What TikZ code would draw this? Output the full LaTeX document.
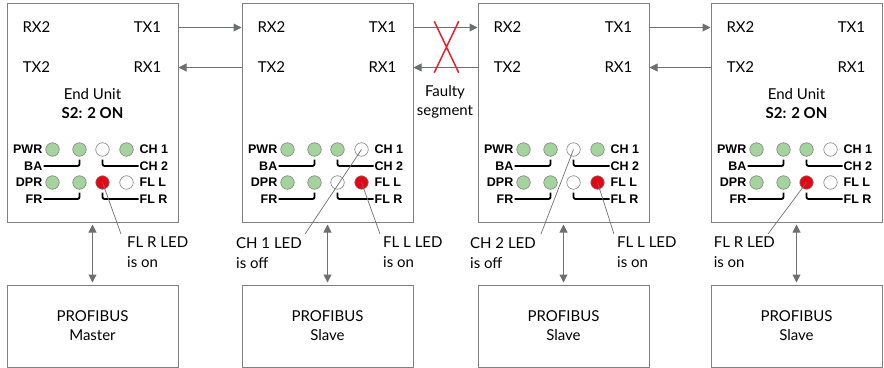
\documentclass[tikz,border=0pt]{standalone}
\usepackage{fontspec}
\setmainfont{Lato}
\newfontfamily\ledfont{Liberation Sans}
\usetikzlibrary{arrows.meta,positioning,shapes.misc}

\definecolor{linegrey}{RGB}{110,111,114}
\definecolor{boxgrey}{RGB}{128,128,128}
\definecolor{ledgreen}{RGB}{164,211,157}
\definecolor{ledred}{RGB}{227,6,19}
\definecolor{crossred}{RGB}{232,32,42}

\begin{document}
\begin{tikzpicture}[
    x=1pt, y=-1pt,
    font=\fontsize{15}{19}\selectfont,
    unitbox/.style={draw=boxgrey, line width=1pt, minimum width=171pt, minimum height=219pt, inner sep=0pt},
    busbox/.style={draw=boxgrey, line width=1pt, minimum width=171pt, minimum height=82pt, align=center},
    port/.style={inner sep=0pt},
    led/.style={circle, draw=boxgrey, line width=0.6pt, fill=#1, minimum size=13.5pt, inner sep=0pt},
    ledlbl/.style={font=\ledfont\bfseries\fontsize{12.5}{12.5}\selectfont, inner sep=1pt},
    bracket/.style={line width=1.8pt, rounded corners=2pt},
    link/.style={-{Triangle[length=8pt,width=8pt]}, draw=linegrey, line width=1pt},
    dlink/.style={{Triangle[length=8pt,width=8pt]}-{Triangle[length=8pt,width=8pt]}, draw=linegrey, line width=1pt},
    ledtext/.style={align=left, inner sep=3pt, font=\fontsize{15}{20}\selectfont},
    leader/.style={draw=linegrey, line width=0.7pt}
]
\useasboundingbox (0,0) rectangle (884,367);

% units and PROFIBUS stations
\node[unitbox] (u1) at (92.5,112.5) {};
\node[unitbox, right=63pt of u1] (u2) {};
\node[unitbox, right=64pt of u2] (u3) {};
\node[unitbox, right=61pt of u3] (u4) {};
\node[busbox, below=62pt of u1] (p1) {PROFIBUS\\Master};
\node[busbox, below=62pt of u2] (p2) {PROFIBUS\\Slave};
\node[busbox, below=62pt of u3] (p3) {PROFIBUS\\Slave};
\node[busbox, below=62pt of u4] (p4) {PROFIBUS\\Slave};

% ports and LED panel of each unit
\foreach \u/\ca/\cb/\cc/\cd in {1/white/ledgreen/ledred/white, 2/ledgreen/white/white/ledred,
                                3/white/ledgreen/white/ledred, 4/ledgreen/white/ledred/white} {
  \begin{scope}[shift={(u\u.north west)}]
    \node[port] (u\u-rx2) at (30,25) {RX2};
    \node[port] (u\u-tx1) at (141,25) {TX1};
    \node[port] (u\u-tx2) at (30,65) {TX2};
    \node[port] (u\u-rx1) at (141,65) {RX1};
    \node[led=ledgreen] (u\u-a1) at (46,147) {};
    \node[led=ledgreen] (u\u-a2) at (73,147) {};
    \node[led=\ca] (u\u-a3) at (96,147) {};
    \node[led=\cb] (u\u-a4) at (120,147) {};
    \node[led=ledgreen] (u\u-b1) at (46,180) {};
    \node[led=ledgreen] (u\u-b2) at (73,180) {};
    \node[led=\cc] (u\u-b3) at (96,180) {};
    \node[led=\cd] (u\u-b4) at (120,180) {};
    \node[ledlbl, anchor=east] (u\u-pwr) at (37,147) {PWR};
    \node[ledlbl, anchor=east] (u\u-ba) at (37,163.5) {BA};
    \node[ledlbl, anchor=east] (u\u-dpr) at (37,180) {DPR};
    \node[ledlbl, anchor=east] (u\u-fr) at (37,196.5) {FR};
    \node[ledlbl, anchor=west] (u\u-ch1) at (132,147) {CH 1};
    \node[ledlbl, anchor=west] (u\u-ch2) at (132,163.5) {CH 2};
    \node[ledlbl, anchor=west] (u\u-fll) at (132,180) {FL L};
    \node[ledlbl, anchor=west] (u\u-flr) at (132,196.5) {FL R};
  \end{scope}
  \draw[bracket] (u\u-ba.east) -| ([yshift=-3pt]u\u-a2.south);
  \draw[bracket] ([yshift=-3pt]u\u-a3.south) |- (u\u-ch2.west);
  \draw[bracket] (u\u-fr.east) -| ([yshift=-3pt]u\u-b2.south);
  \draw[bracket] ([yshift=-3pt]u\u-b3.south) |- (u\u-flr.west);
  \draw[dlink] ([yshift=-2pt]u\u.south) -- ([yshift=2pt]p\u.north);
}

\foreach \u in {1,4}
  \node[align=center] (u\u-end) at ([yshift=-101.5pt]u\u.north) {End Unit\\\textbf{S2: 2 ON}};

% fibre links between the units
\foreach \a/\b in {1/2,2/3,3/4} {
  \draw[link] (u\a.east |- u\a-tx1) -- (u\b.west |- u\a-tx1);
  \draw[link] (u\b.west |- u\a-rx1) -- (u\a.east |- u\a-rx1);
}
\node[cross out, draw=crossred, line width=1.5pt, minimum width=23pt, minimum height=50pt] (cut) at (446.5,47) {};
\node[align=center] (faulty) at (445,101.5) {Faulty\\segment};

% callouts
\node[ledtext, anchor=north west] (c1) at (124,234) {FL R LED\\is on};
\node[ledtext, anchor=north east] (c2) at (305,234) {CH 1 LED\\is off};
\node[ledtext, anchor=north west] (c3) at (380,234) {FL L LED\\is on};
\node[ledtext, anchor=north east] (c4) at (539,234) {CH 2 LED\\is off};
\node[ledtext, anchor=north west] (c5) at (614,234) {FL L LED\\is on};
\node[ledtext, anchor=north east] (c6) at (778,234) {FL R LED\\is on};
\draw[leader] (u1-b3.center) -- ([xshift=-3pt]c1.north west);
\draw[leader] (u2-a4.center) -- (c2.north east);
\draw[leader] (u2-b4.center) -- (c3.north west);
\draw[leader] (u3-a3.center) -- ([xshift=2pt]c4.north east);
\draw[leader] (u3-b4.center) -- (c5.north west);
\draw[leader] (u4-b3.center) -- ([xshift=-10pt]c6.north east);
\end{tikzpicture}
\end{document}
